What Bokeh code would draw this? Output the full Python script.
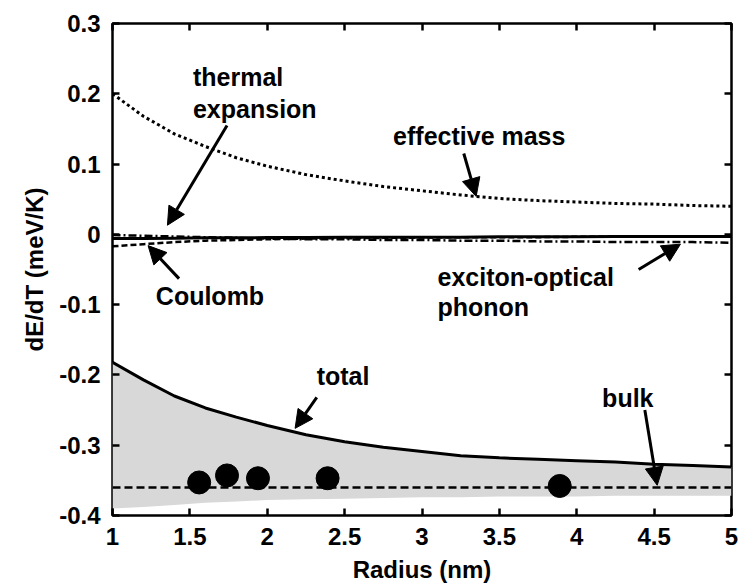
from bokeh.plotting import figure
from bokeh.models import (Label, Arrow, NormalHead, LinearAxis, FixedTicker)
from bokeh.embed import file_html
from bokeh.resources import INLINE

# Radius grid (nm)
radius = [1.0, 1.2, 1.4, 1.6, 1.8, 2.0, 2.25, 2.5, 2.75, 3.0,
          3.25, 3.5, 3.75, 4.0, 4.25, 4.5, 4.75, 5.0]

# Contributions to dE/dT (meV/K)
effective_mass = [0.200, 0.168, 0.143, 0.125, 0.109, 0.097, 0.085, 0.076, 0.068,
                  0.062, 0.056, 0.051, 0.048, 0.046, 0.044, 0.043, 0.041, 0.040]
thermal_expansion = [-0.006, -0.006, -0.0055, -0.005, -0.005, -0.0045, -0.0045, -0.004,
                     -0.004, -0.004, -0.004, -0.0035, -0.0035, -0.0035, -0.003, -0.003,
                     -0.003, -0.003]
exciton_phonon = [-0.001, -0.002, -0.003, -0.004, -0.005, -0.006, -0.007, -0.007, -0.008,
                  -0.008, -0.009, -0.009, -0.010, -0.010, -0.011, -0.011, -0.011, -0.012]
coulomb = [-0.017, -0.014, -0.011, -0.009, -0.008, -0.007, -0.006, -0.0055, -0.005,
           -0.0045, -0.004, -0.004, -0.004, -0.0035, -0.0035, -0.003, -0.003, -0.003]
total = [-0.182, -0.207, -0.230, -0.247, -0.260, -0.272, -0.285, -0.295, -0.303,
         -0.309, -0.315, -0.318, -0.320, -0.322, -0.324, -0.327, -0.329, -0.331]
total_lower = [-0.390, -0.388, -0.385, -0.382, -0.380, -0.378, -0.377, -0.376, -0.375,
               -0.374, -0.374, -0.373, -0.373, -0.373, -0.372, -0.372, -0.372, -0.372]
bulk = -0.36

# Measured points
meas_radius = [1.56, 1.74, 1.94, 2.39, 3.89]
meas_dedt = [-0.353, -0.343, -0.347, -0.347, -0.358]

x_ticks = [1, 1.5, 2, 2.5, 3, 3.5, 4, 4.5, 5]
x_tick_labels = ["1", "1.5", "2", "2.5", "3", "3.5", "4", "4.5", "5"]
y_ticks = [0.3, 0.2, 0.1, 0, -0.1, -0.2, -0.3, -0.4]
y_tick_labels = ["0.3", "0.2", "0.1", "0", "-0.1", "-0.2", "-0.3", "-0.4"]

FONT = "Liberation Sans"

p = figure(width=738, height=586, x_range=(1, 5), y_range=(-0.4, 0.3),
           output_backend="svg", toolbar_location=None,
           min_border_left=112, min_border_right=7, min_border_top=23,
           min_border_bottom=71)
p.background_fill_color = "white"
p.border_fill_color = "white"
p.grid.visible = False
p.outline_line_color = "black"
p.outline_line_width = 2.5

# shaded band under the total curve
p.varea(x=radius, y1=total_lower, y2=total, fill_color="#d8d8d8")

p.line(radius, effective_mass, line_color="black", line_width=3, line_dash="3 3")
p.line(radius, thermal_expansion, line_color="black", line_width=3)
p.line(radius, exciton_phonon, line_color="black", line_width=2.5, line_dash="8 3 2 3")
p.line(radius, coulomb, line_color="black", line_width=2.5, line_dash="6 3")
p.line(radius, total, line_color="black", line_width=3)
p.line([radius[0], radius[-1]], [bulk, bulk], line_color="black", line_width=2.5,
       line_dash="8 4")
p.scatter(meas_radius, meas_dedt, size=23, fill_color="black", line_color="black")

bottom = p.below[0]
left = p.left[0]
bottom.ticker = FixedTicker(ticks=x_ticks)
bottom.major_label_overrides = dict(zip(x_ticks, x_tick_labels))
left.ticker = FixedTicker(ticks=y_ticks)
left.major_label_overrides = dict(zip(y_ticks, y_tick_labels))
bottom.axis_label = "Radius (nm)"
left.axis_label = "dE/dT (meV/K)"

# mirrored tick marks on the top and right edges
top = LinearAxis(ticker=FixedTicker(ticks=x_ticks))
right = LinearAxis(ticker=FixedTicker(ticks=y_ticks))
p.add_layout(top, "above")
p.add_layout(right, "right")

for ax in (bottom, left, top, right):
    ax.axis_line_color = None
    ax.major_tick_in = 7
    ax.major_tick_out = 0
    ax.major_tick_line_width = 2.5
    ax.major_tick_line_color = "black"
    ax.minor_tick_line_color = None
    ax.major_label_text_font = FONT
    ax.major_label_text_font_style = "bold"
    ax.major_label_text_color = "black"
    ax.axis_label_text_font = FONT
    ax.axis_label_text_font_style = "bold"
    ax.axis_label_text_color = "black"
    ax.axis_label_text_font_size = "24px"

for ax in (bottom, left):
    ax.major_label_text_font_size = "24px"
    ax.major_label_standoff = 12
    ax.axis_label_standoff = 8

top.major_label_overrides = {t: "" for t in x_ticks}
right.major_label_overrides = {t: "" for t in y_ticks}
for ax in (top, right):
    ax.major_label_standoff = 0
    ax.major_label_text_font_size = "1px"


def note(x, y, text, align="left"):
    p.add_layout(Label(x=x, y=y, text=text, text_font=FONT, text_font_style="bold",
                       text_font_size="25px", text_color="black",
                       text_align=align, text_baseline="middle"))


def arrow(x0, y0, x1, y1):
    p.add_layout(Arrow(end=NormalHead(size=18, fill_color="black", line_color="black"),
                       x_start=x0, y_start=y0, x_end=x1, y_end=y1,
                       line_color="black", line_width=3))


note(1.52, 0.224, "thermal")
note(1.52, 0.179, "expansion")
arrow(1.74, 0.155, 1.355, 0.013)

note(3.37, 0.14, "effective mass", "center")
arrow(3.27, 0.115, 3.35, 0.054)

note(1.28, -0.088, "Coulomb")
arrow(1.43, -0.063, 1.23, -0.016)

note(3.10, -0.061, "exciton-optical")
note(3.10, -0.104, "phonon")
arrow(4.40, -0.050, 4.67, -0.014)

note(2.49, -0.202, "total", "center")
arrow(2.32, -0.232, 2.18, -0.276)

note(4.33, -0.233, "bulk", "center")
arrow(4.44, -0.250, 4.52, -0.357)

open("out.html", "w").write(file_html(p, INLINE))
